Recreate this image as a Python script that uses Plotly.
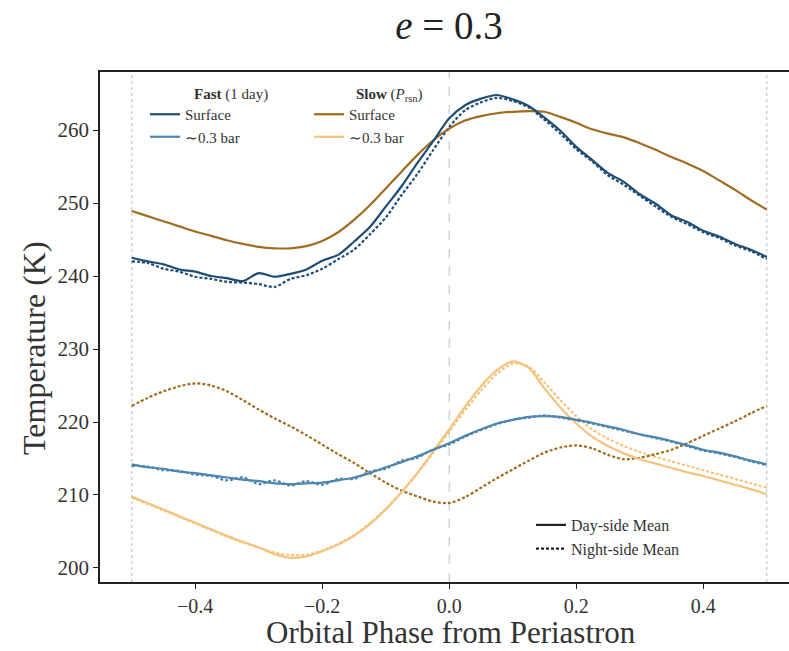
import plotly.graph_objects as go

# ---------------- data ----------------
phase = [round(-0.5 + 0.025 * i, 3) for i in range(41)]

# Fast rotation (1 day)
fast_surf_day = [242.5, 242.0, 241.6, 240.9, 240.6, 240.0, 239.7, 239.3, 240.4, 239.9,
                 240.3, 240.9, 242.1, 242.9, 244.7, 246.7, 249.5, 252.3, 255.5, 258.5,
                 261.6, 263.4, 264.3, 264.8, 264.2, 263.3, 261.7, 259.9, 257.7, 255.9,
                 254.1, 252.9, 251.2, 249.9, 248.3, 247.4, 246.2, 245.4, 244.4, 243.6, 242.6]
fast_surf_night = [242.0, 241.8, 241.0, 240.6, 239.9, 239.6, 239.2, 239.1, 238.9, 238.5,
                   239.6, 240.1, 241.0, 242.3, 243.6, 245.7, 248.0, 251.1, 254.0, 257.3,
                   260.4, 262.7, 263.8, 264.4, 264.0, 263.1, 261.4, 259.5, 257.4, 255.7,
                   253.8, 252.5, 251.0, 249.5, 248.1, 247.1, 246.0, 245.2, 244.2, 243.4, 242.3]
fast_bar_day = [214.2, 213.8, 213.6, 213.2, 213.0, 212.7, 212.4, 212.1, 211.9, 211.6,
                211.5, 211.6, 211.7, 212.0, 212.4, 213.0, 213.8, 214.5, 215.3, 216.2,
                217.1, 218.1, 219.0, 219.8, 220.3, 220.7, 220.8, 220.7, 220.3, 219.9,
                219.4, 218.9, 218.3, 217.9, 217.4, 216.8, 216.2, 215.8, 215.3, 214.7, 214.2]
fast_bar_night = [214.0, 213.9, 213.4, 213.3, 212.8, 212.6, 212.0, 212.4, 211.5, 212.0,
                  211.3, 211.9, 211.4, 212.2, 212.2, 213.2, 213.6, 214.7, 215.1, 216.3,
                  216.9, 218.0, 218.9, 219.7, 220.3, 220.6, 220.9, 220.6, 220.2, 219.8,
                  219.3, 218.8, 218.3, 217.8, 217.3, 216.7, 216.1, 215.7, 215.2, 214.6, 214.1]

# Slow rotation (P_rsn)
slow_surf_day = [248.9, 248.2, 247.5, 246.8, 246.1, 245.5, 244.9, 244.4, 244.0, 243.8,
                 243.8, 244.1, 244.8, 246.0, 247.7, 249.7, 252.0, 254.3, 256.6, 258.6,
                 260.2, 261.3, 261.9, 262.3, 262.5, 262.6, 262.5, 261.8, 261.0, 260.1,
                 259.5, 259.0, 258.2, 257.3, 256.3, 255.4, 254.4, 253.1, 251.8, 250.4, 249.1]
slow_surf_night = [222.2, 223.3, 224.2, 224.9, 225.3, 225.0, 224.2, 223.0, 221.7, 220.5,
                   219.4, 218.2, 216.9, 215.6, 214.4, 213.0, 211.7, 210.6, 209.8, 209.1,
                   208.9, 209.7, 211.0, 212.3, 213.5, 214.7, 215.8, 216.5, 216.8, 216.4,
                   215.5, 214.9, 215.1, 215.6, 216.2, 217.1, 218.1, 219.1, 220.1, 221.2, 222.2]
slow_bar_day = [209.8, 208.9, 208.0, 207.1, 206.2, 205.3, 204.4, 203.6, 202.8, 201.9,
                201.4, 201.6, 202.3, 203.2, 204.4, 206.0, 208.0, 210.4, 213.0, 216.0,
                219.0, 222.1, 224.9, 227.1, 228.3, 227.4, 224.6, 222.0, 219.8, 218.0,
                216.7, 215.7, 214.9, 214.3, 213.7, 213.1, 212.6, 212.0, 211.4, 210.8, 210.1]
slow_bar_night = [209.6, 208.8, 207.9, 207.0, 206.1, 205.2, 204.3, 203.5, 202.8, 202.1,
                  201.8, 201.8, 202.4, 203.3, 204.5, 206.1, 208.1, 210.4, 213.0, 215.8,
                  218.7, 221.6, 224.3, 226.6, 228.0, 227.6, 225.4, 223.0, 220.8, 219.0,
                  217.7, 216.7, 215.9, 215.2, 214.6, 214.0, 213.4, 212.8, 212.2, 211.6, 211.0]

x_ticks = [-0.4, -0.2, 0.0, 0.2, 0.4]
y_ticks = [200, 210, 220, 230, 240, 250, 260]
ref_lines = [-0.5, 0.0, 0.5]

# ---------------- styling ----------------
C_FAST_SURF = "#1f4d74"
C_FAST_BAR = "#4f86ae"
C_SLOW_SURF = "#a06c1f"
C_SLOW_BAR = "#f4c37d"
FONT = "Liberation Serif"
LW = 2.2
NIGHT_DASH = "3px,2px"

W, H = 789, 651
ML, MR, MT, MB = 100, 0, 72, 69
PW, PH = W - ML - MR, H - MT - MB

def px_x(px):
    return (px - ML) / PW

def px_y(py):
    return (H - MB - py) / PH

fig = go.Figure()

def add(y, color, dash, name=None, legend=None):
    fig.add_trace(go.Scatter(
        x=phase, y=y, mode="lines",
        line=dict(color=color, width=LW, dash=dash, shape="spline", smoothing=0.8),
        name=name if name else "night",
        showlegend=name is not None,
        legend=legend,
        hoverinfo="skip",
    ))

# night-side first (drawn underneath), then day-side
add(fast_surf_night, C_FAST_SURF, NIGHT_DASH)
add(fast_bar_night, C_FAST_BAR, NIGHT_DASH)
add(slow_bar_night, C_SLOW_BAR, NIGHT_DASH)
add(slow_surf_night, C_SLOW_SURF, NIGHT_DASH)
add(slow_bar_day, C_SLOW_BAR, "solid")
add(fast_bar_day, C_FAST_BAR, "solid")
add(slow_surf_day, C_SLOW_SURF, "solid", "Surface", "legend2")
add(fast_surf_day, C_FAST_SURF, "solid", "Surface", "legend")

# legend entries for the ~0.3 bar level
fig.add_trace(go.Scatter(x=[None], y=[None], mode="lines",
                         line=dict(color=C_FAST_BAR, width=LW),
                         name="∼0.3 bar", legend="legend"))
fig.add_trace(go.Scatter(x=[None], y=[None], mode="lines",
                         line=dict(color=C_SLOW_BAR, width=LW),
                         name="∼0.3 bar", legend="legend2"))
# line-style legend
fig.add_trace(go.Scatter(x=[None], y=[None], mode="lines",
                         line=dict(color="#222222", width=LW),
                         name="Day-side Mean", legend="legend3"))
fig.add_trace(go.Scatter(x=[None], y=[None], mode="lines",
                         line=dict(color="#222222", width=LW, dash=NIGHT_DASH),
                         name="Night-side Mean", legend="legend3"))

shapes = []
for xv in ref_lines:
    shapes.append(dict(type="line", xref="x", yref="paper", x0=xv, x1=xv, y0=0, y1=1,
                       line=dict(color="#c8c8c8", width=1.2,
                                 dash="dash" if xv == 0 else "dot"),
                       layer="below"))

legend_common = dict(bgcolor="rgba(0,0,0,0)", borderwidth=0,
                     xanchor="left", yanchor="top", tracegroupgap=0,
                     itemwidth=30, traceorder="normal")
LEG_FONT_TOP = dict(family=FONT, size=15, color="#333333")
LEG_FONT_BOT = dict(family=FONT, size=16, color="#333333")

fig.update_layout(
    width=W, height=H,
    margin=dict(l=ML, r=MR, t=MT, b=MB),
    paper_bgcolor="white", plot_bgcolor="white",
    font=dict(family=FONT, color="#222222"),
    title=dict(text="<i>e</i> = 0.3", x=449 / W, xanchor="center", y=1 - 25 / H, yanchor="middle",
               font=dict(family=FONT, size=39, color="#222222")),
    xaxis=dict(range=[-0.5499, 0.535], tickvals=x_ticks, tickformat=".1f",
               ticks="outside", ticklen=5, tickwidth=1.2, tickcolor="#222222",
               showline=True, linecolor="#222222", linewidth=1.5, mirror=True,
               showgrid=False, zeroline=False,
               tickfont=dict(family=FONT, size=20, color="#333333")),
    yaxis=dict(range=[198.08, 267.95], tickvals=y_ticks,
               ticks="outside", ticklen=5, tickwidth=1.2, tickcolor="#222222",
               showline=True, linecolor="#222222", linewidth=1.5, mirror=False,
               showgrid=False, zeroline=False,
               tickfont=dict(family=FONT, size=21, color="#333333")),
    shapes=shapes,
    legend=dict(x=px_x(145), y=px_y(98), font=LEG_FONT_TOP, **legend_common),
    legend2=dict(x=px_x(309), y=px_y(98), font=LEG_FONT_TOP, **legend_common),
    legend3=dict(x=px_x(531), y=px_y(508), font=LEG_FONT_BOT, **legend_common),
    annotations=[
        dict(text="<b>Fast</b> (1 day)", xref="paper", yref="paper",
             x=px_x(192), y=px_y(95), xanchor="left", yanchor="middle",
             showarrow=False, font=dict(family=FONT, size=15, color="#333333")),
        dict(text="<b>Slow</b> (<i>P</i><sub>rsn</sub>)", xref="paper", yref="paper",
             x=px_x(354), y=px_y(95), xanchor="left", yanchor="middle",
             showarrow=False, font=dict(family=FONT, size=15, color="#333333")),
        dict(text="Orbital Phase from Periastron", xref="paper", yref="paper",
             x=px_x(451), y=px_y(632), xanchor="center", yanchor="middle",
             showarrow=False, font=dict(family=FONT, size=31, color="#333333")),
        dict(text="Temperature (K)", xref="paper", yref="paper", textangle=-90,
             x=px_x(34), y=px_y(348), xanchor="center", yanchor="middle",
             showarrow=False, font=dict(family=FONT, size=32, color="#333333")),
    ],
)

fig.write_html("out.html")
